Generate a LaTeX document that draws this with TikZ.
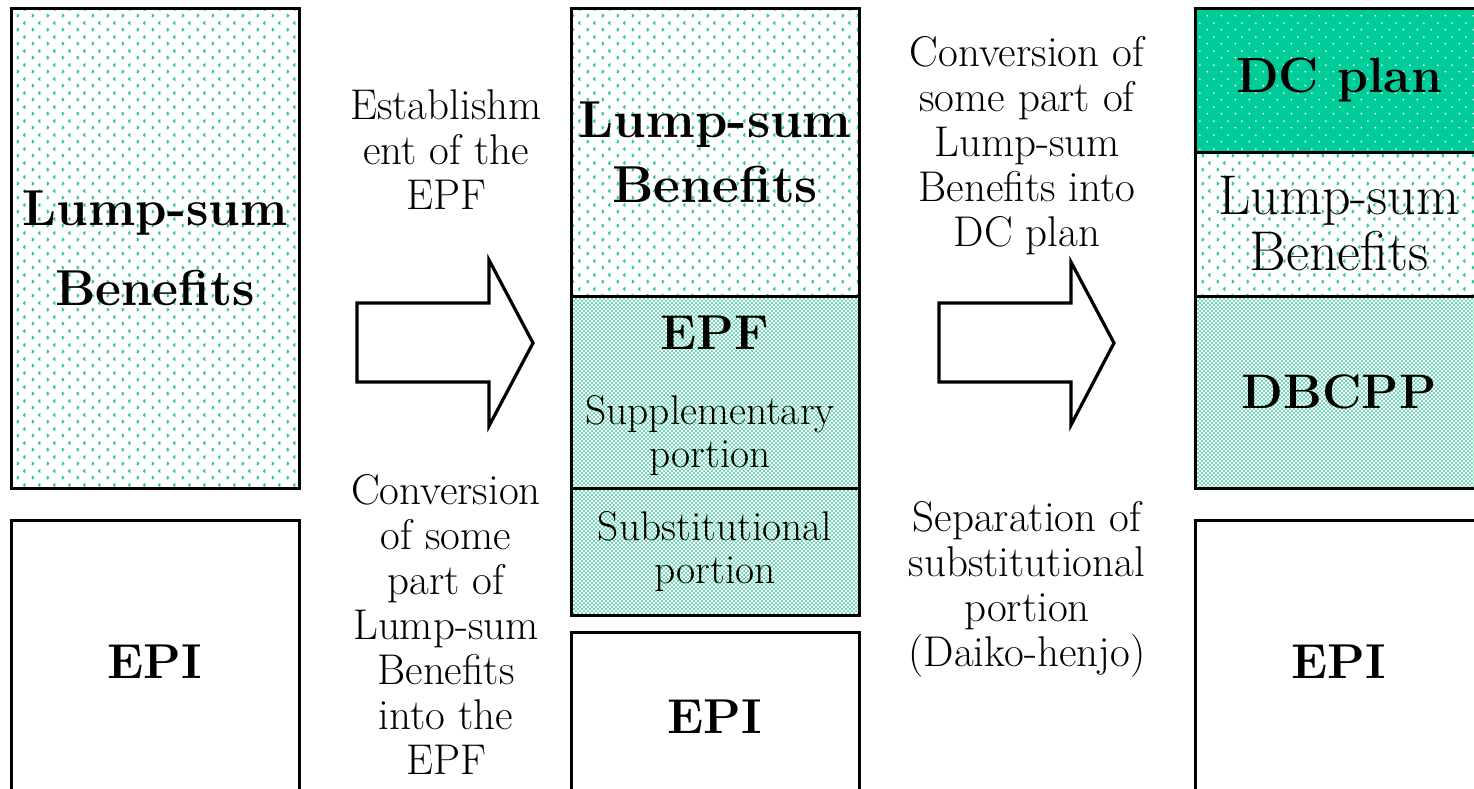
\documentclass[tikz,border=0pt]{standalone}
\usepackage{fontspec}
\usetikzlibrary{patterns}
\definecolor{markc}{RGB}{35,200,150}
\definecolor{epfbg}{RGB}{70,208,165}
\definecolor{dcbg}{RGB}{0,204,153}

\pgfdeclarepatternformonly{lumpmarks}{\pgfqpoint{0pt}{0pt}}{\pgfqpoint{15pt}{14pt}}{\pgfqpoint{15pt}{14pt}}{%
  \pgfsetlinewidth{1.4pt}%
  \pgfpathmoveto{\pgfqpoint{2pt}{2pt}}\pgfpathlineto{\pgfqpoint{3.8pt}{3.6pt}}\pgfpathlineto{\pgfqpoint{2pt}{5.2pt}}%
  \pgfpathmoveto{\pgfqpoint{11pt}{9pt}}\pgfpathlineto{\pgfqpoint{9.2pt}{10.6pt}}\pgfpathlineto{\pgfqpoint{11pt}{12.2pt}}%
  \pgfusepath{stroke}}
\pgfdeclarepatternformonly{epfhatch}{\pgfqpoint{-1pt}{-1pt}}{\pgfqpoint{5pt}{5pt}}{\pgfqpoint{4pt}{4pt}}{%
  \pgfsetlinewidth{1.0pt}%
  \pgfpathmoveto{\pgfqpoint{0pt}{0pt}}\pgfpathlineto{\pgfqpoint{4pt}{4pt}}%
  \pgfpathmoveto{\pgfqpoint{0pt}{4pt}}\pgfpathlineto{\pgfqpoint{4pt}{0pt}}%
  \pgfusepath{stroke}}
\pgfdeclarepatternformonly{dcdots}{\pgfqpoint{0pt}{0pt}}{\pgfqpoint{14pt}{14pt}}{\pgfqpoint{14pt}{14pt}}{%
  \pgfpathcircle{\pgfqpoint{3.5pt}{3.5pt}}{1pt}%
  \pgfpathcircle{\pgfqpoint{10.5pt}{10.5pt}}{1pt}%
  \pgfusepath{fill}}

\tikzset{
  box/.style={draw, line width=3pt, minimum width=288pt, inner sep=0pt, align=center},
  lumpbox/.style={box, preaction={fill=white}, preaction={pattern=lumpmarks, pattern color=markc}},
  epfbox/.style={box, preaction={fill=epfbg}, preaction={pattern=epfhatch, pattern color=white}},
  dcbox/.style={box, preaction={fill=dcbg}, preaction={pattern=dcdots, pattern color=white}},
  epibox/.style={box, fill=white},
  epifont/.style={font=\fontsize{49}{60}\selectfont\bfseries},
  midtxt/.style={align=center, inner sep=0pt, font=\fontsize{43}{45}\selectfont},
  smalltxt/.style={align=center, inner sep=0pt, font=\fontsize{41.5}{43}\selectfont},
  bigarrow/.style={draw, line width=3.2pt, fill=white, line join=miter},
}

\begin{document}
\begin{tikzpicture}[x=1pt, y=-1pt]
\useasboundingbox (0,0) rectangle (1474,789);
\clip (0,0) rectangle (1474,789);

% column 1
\node[lumpbox, minimum height=479pt, font=\fontsize{50.5}{80}\selectfont\bfseries] (lump1) at (155,248.5) {Lump-sum\\Benefits};
\node[epibox, minimum height=284pt, epifont] (epi1) at (155,662) {EPI};

% column 2
\node[lumpbox, minimum height=287pt, font=\fontsize{52}{65}\selectfont\bfseries] (lump2) at (715,152.5) {Lump-sum\\Benefits};
\node[epfbox, minimum height=192pt] (epf2) at (715,392) {};
\node[epifont, inner sep=0pt] (epf2t) at (715,333) {EPF};
\node[smalltxt] (supp) at (710,436) {Supplementary\\portion};
\node[epfbox, minimum height=127pt, smalltxt, inner sep=0pt] (subs2) at (715,551.5) {Substitutional\\portion};
\node[epibox, minimum height=170pt, epifont] (epi2) at (715,717) {EPI};

% column 3
\node[dcbox, minimum height=143pt, font=\fontsize{49.5}{60}\selectfont\bfseries] (dc3) at (1339,80.5) {DC plan};
\node[lumpbox, minimum height=144pt, font=\fontsize{56}{56}\selectfont] (lump3) at (1339,224) {Lump-sum\\Benefits};
\node[epfbox, minimum height=192pt, font=\fontsize{48.5}{60}\selectfont\bfseries] (dbcpp3) at (1339,392) {DBCPP};
\node[epibox, minimum height=284pt, epifont] (epi3) at (1339,662) {EPI};

% arrows
\draw[bigarrow] (357,303) -- (489,303) -- (489,260) -- (533,343) -- (489,426) -- (489,382) -- (357,382) -- cycle;
\draw[bigarrow] (939,303) -- (1071,303) -- (1071,262) -- (1114,343) -- (1071,425) -- (1071,382) -- (939,382) -- cycle;

% labels
\node[midtxt] (t1) at (446,150) {Establishm\\ent of the\\EPF};
\node[midtxt] (t2) at (446,624) {Conversion\\of some\\part of\\Lump-sum\\Benefits\\into the\\EPF};
\node[midtxt] (t3) at (1027,146) {Conversion of\\some part of\\Lump-sum\\Benefits into\\DC plan};
\node[midtxt] (t4) at (1027,589) {Separation of\\substitutional\\portion\\(Daiko-henjo)};
\end{tikzpicture}
\end{document}
